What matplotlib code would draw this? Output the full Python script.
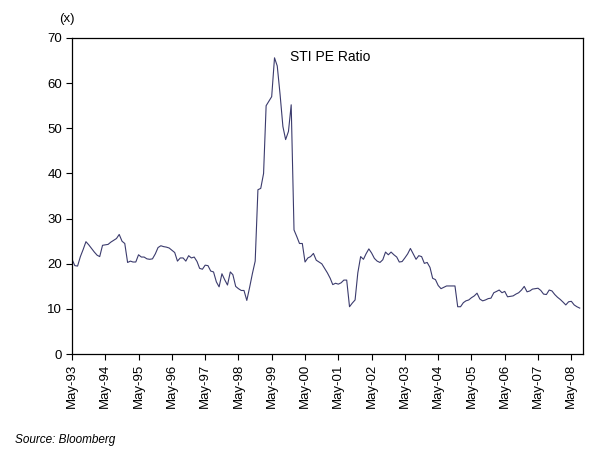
import pandas as pd
import matplotlib
matplotlib.use("Agg")
import matplotlib.pyplot as plt
import matplotlib.dates as mdates

plt.rcParams['font.family'] = ['Liberation Sans', 'DejaVu Sans']

# monthly STI PE ratio, May-93 .. Aug-08
pe_1993_1996 = [21.0, 19.6, 19.5, 21.6, 23.2, 24.9, 24.2, 23.4, 22.6, 21.9,
                21.6, 24.1, 24.2, 24.3, 24.8, 25.2, 25.6, 26.5, 25.0, 24.5,
                20.3, 20.6, 20.4, 20.4, 22.0, 21.5, 21.5, 21.1, 21.0, 21.1,
                22.2, 23.6, 24.0, 23.8, 23.7, 23.5, 23.0, 22.5, 20.6, 21.3,
                21.3, 20.6, 21.8]
pe_1997_2000 = [21.3, 21.5, 20.5, 19.0, 18.8, 19.7, 19.6, 18.4, 18.2, 16.0,
                14.9, 17.8, 16.5, 15.3, 18.2, 17.6, 15.0, 14.5, 14.1, 14.1,
                11.9, 14.8, 17.8, 20.6, 36.4, 36.7, 40.0, 55.0, 56.0, 57.0,
                65.6, 63.8, 57.5, 50.4, 47.5, 49.3, 55.2, 27.5, 26.0, 24.5,
                24.5, 20.4]
pe_2000_2004 = [21.3, 21.6, 22.3, 20.8, 20.4, 20.0, 19.0, 18.0, 16.8, 15.4,
                15.7, 15.5, 15.8, 16.4, 16.4, 10.5, 11.3, 12.0, 18.0, 21.6,
                21.0, 22.2, 23.3, 22.4, 21.2, 20.6, 20.3, 20.9, 22.6, 22.0,
                22.6, 22.0, 21.5, 20.4, 20.5, 21.3, 22.2, 23.4, 22.2, 21.0,
                21.8, 21.6, 20.1, 20.3, 19.2, 16.8, 16.5, 15.2]
pe_2004_2008 = [14.5, 14.8, 15.1, 15.1, 15.1, 15.1, 10.5, 10.5, 11.4, 11.8,
                12.0, 12.5, 12.9, 13.5, 12.2, 11.8, 12.0, 12.3, 12.4, 13.6,
                13.9, 14.2, 13.6, 13.9, 12.7, 12.8, 12.9, 13.3, 13.6, 14.2,
                15.0, 13.8, 14.0, 14.4, 14.5, 14.6, 14.1, 13.3, 13.2, 14.2,
                14.0, 13.2, 12.6, 12.1, 11.5, 10.9, 11.6, 11.7, 10.9, 10.5,
                10.2]

pe = pe_1993_1996 + pe_1997_2000 + pe_2000_2004 + pe_2004_2008
dates = pd.date_range('1993-05-01', periods=len(pe), freq='MS')
tick_dates = pd.date_range('1993-05-01', '2008-05-01', freq='12MS')
y_ticks = [0, 10, 20, 30, 40, 50, 60, 70]

fig = plt.figure(figsize=(6, 4.57), dpi=100)
ax = fig.add_axes([0.12, 0.225, 0.852, 0.692])

ax.plot(dates, pe, color='#3b3b6d', linewidth=0.8)

ax.set_xlim(pd.Timestamp('1993-05-01'), pd.Timestamp('2008-09-08'))
ax.set_ylim(0, 70)
ax.set_yticks(y_ticks)
ax.set_xticks(tick_dates)
ax.xaxis.set_major_formatter(mdates.DateFormatter('%b-%y'))
plt.setp(ax.get_xticklabels(), rotation=90)

ax.tick_params(axis='both', direction='out', length=4, width=0.8,
               labelsize=9.5, pad=3)
for s in ax.spines.values():
    s.set_linewidth(0.9)

ax.text(0.427, 0.94, 'STI PE Ratio', transform=ax.transAxes,
        ha='left', va='center', fontsize=10)
fig.text(0.112, 0.958, '(x)', ha='center', va='center', fontsize=9.5)
fig.text(0.025, 0.037, 'Source: Bloomberg', ha='left', va='center',
         fontsize=8.5, style='italic')

fig.savefig('out.png', dpi=100)
